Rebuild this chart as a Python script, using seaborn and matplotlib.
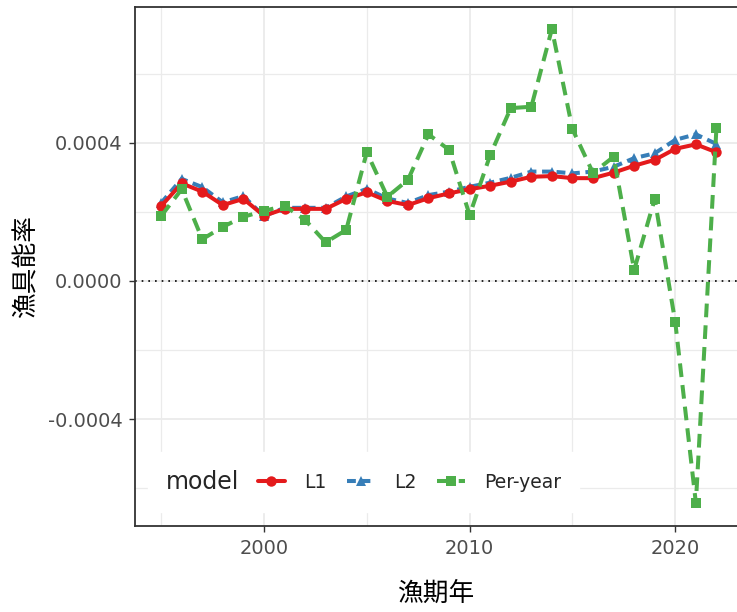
import matplotlib
matplotlib.use("Agg")
import matplotlib.pyplot as plt
import seaborn as sns
import pandas as pd
import numpy as np
from matplotlib.offsetbox import HPacker
from matplotlib.ticker import MultipleLocator

years = list(range(1995, 2023))
l1 = [0.000217, 0.000283, 0.000259, 0.000220, 0.000238, 0.000189, 0.000209, 0.000209,
      0.000209, 0.000238, 0.000257, 0.000232, 0.000220, 0.000240, 0.000254, 0.000266,
      0.000276, 0.000288, 0.000302, 0.000304, 0.000298, 0.000298, 0.000314, 0.000334,
      0.000351, 0.000383, 0.000396, 0.000373]
l2 = [0.000226, 0.000296, 0.000272, 0.000228, 0.000246, 0.000188, 0.000212, 0.000212,
      0.000212, 0.000245, 0.000267, 0.000239, 0.000226, 0.000249, 0.000259, 0.000273,
      0.000285, 0.000299, 0.000317, 0.000317, 0.000312, 0.000317, 0.000331, 0.000356,
      0.000370, 0.000409, 0.000425, 0.000397]
per_year = [0.000188, 0.000266, 0.000121, 0.000157, 0.000186, 0.000203, 0.000218, 0.000177,
            0.000112, 0.000148, 0.000373, 0.000244, 0.000293, 0.000425, 0.000380, 0.000191,
            0.000365, 0.000501, 0.000505, 0.000730, 0.000440, 0.000313, 0.000360, 0.000032,
            0.000238, -0.000120, -0.000643, 0.000443]
models = ["L1", "L2", "Per-year"]
x_label = "漁期年"
y_label = "漁具能率"
legend_title = "model"

df = pd.DataFrame({
    "year": years * 3,
    "value": l1 + l2 + per_year,
    "model": ["L1"] * len(years) + ["L2"] * len(years) + ["Per-year"] * len(years),
})

sns.set_theme(style="white")
plt.rcParams["font.family"] = ["DejaVu Sans", "Noto Sans CJK JP"]
cjk = ["Noto Sans CJK JP", "DejaVu Sans"]

palette = {"L1": "#E41A1C", "L2": "#377EB8", "Per-year": "#4DAF4A"}
markers = {"L1": "o", "L2": "^", "Per-year": "s"}
dashes = {"L1": "", "L2": (2.2, 1.4), "Per-year": (3.4, 2.0)}

fig = plt.figure(figsize=(7.37, 6.12), dpi=100)
ax = fig.add_axes([135 / 737, 1 - 526 / 612, 1 - 135 / 737, (526 - 7) / 612])

sns.lineplot(data=df, x="year", y="value", hue="model", style="model",
             hue_order=models, style_order=models, palette=palette,
             markers=markers, dashes=dashes, linewidth=2.9, markersize=7.5,
             markeredgewidth=0, ax=ax)

# stacking: red over blue, green on top
for line in ax.get_lines():
    c = matplotlib.colors.to_hex(line.get_color()).upper()
    if c == "#E41A1C":
        line.set_zorder(4)
    elif c == "#377EB8":
        line.set_zorder(3)
    elif c == "#4DAF4A":
        line.set_zorder(5)

ax.axhline(0, color="black", linestyle=(0, (1, 3)), linewidth=1.2, zorder=2)

ax.set_xlim(1993.73, 2023.0)
ax.set_ylim(-0.00071, 0.000794)
ax.xaxis.set_major_locator(MultipleLocator(10))
ax.xaxis.set_minor_locator(MultipleLocator(5))
ax.yaxis.set_major_locator(MultipleLocator(0.0004))
ax.yaxis.set_minor_locator(MultipleLocator(0.0002))
ax.yaxis.set_major_formatter(matplotlib.ticker.FuncFormatter(lambda v, p: f"{v:.4f}"))

ax.grid(True, which="major", color="#EBEBEB", linewidth=1.3, zorder=0)
ax.grid(True, which="minor", color="#EBEBEB", linewidth=0.9, zorder=0)
ax.set_axisbelow(True)

ax.tick_params(axis="both", which="major", length=4, width=1.0, color="#333333",
               labelsize=14, labelcolor="#4D4D4D", pad=5, bottom=True, left=True)
ax.tick_params(axis="both", which="minor", length=0)

for side in ["left", "bottom", "top"]:
    ax.spines[side].set_color("#333333")
    ax.spines[side].set_linewidth(1.3)
ax.spines["right"].set_visible(False)

ax.set_xlabel(x_label, fontsize=18.5, family=cjk, color="black", labelpad=17)
ax.set_ylabel(y_label, fontsize=18.5, family=cjk, color="black", labelpad=6)

handles, labels = ax.get_legend_handles_labels()
ax.get_legend().remove()
leg = ax.legend(handles, labels, title=legend_title, ncol=3, loc="lower left",
                bbox_to_anchor=(0.021, 0.027), borderaxespad=0, frameon=True,
                fancybox=False, facecolor="white", edgecolor="white", framealpha=1,
                fontsize=13.5, title_fontsize=17, handlelength=1.45,
                handletextpad=1.05, columnspacing=1.1, borderpad=0.95)
leg.set_zorder(6)
try:
    fs = leg._fontsize
    newbox = HPacker(pad=leg.borderpad * fs, sep=1.0 * fs, align="center",
                     children=[leg._legend_title_box, leg._legend_handle_box])
    newbox.set_figure(leg.figure)
    newbox.axes = leg.axes
    leg._legend_box = newbox
    leg._set_loc(leg._loc)
except Exception:
    pass

fig.savefig("out.png", dpi=100)
